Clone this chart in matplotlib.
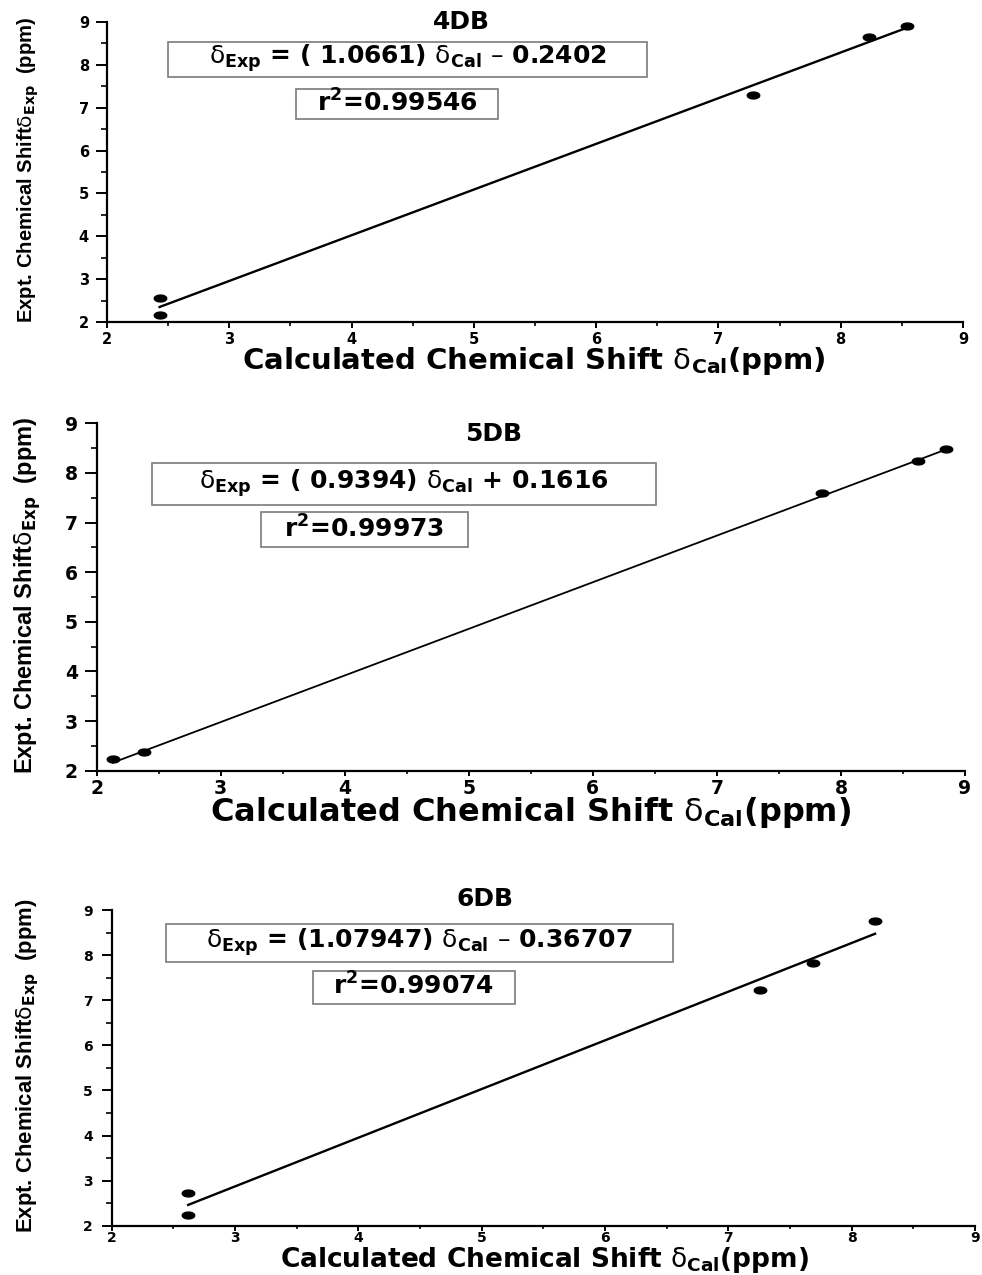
import numpy as np
import matplotlib
matplotlib.use('Agg')
import matplotlib.pyplot as plt
from matplotlib.patches import Rectangle
from matplotlib.ticker import MultipleLocator

# ---------------- data ----------------
names = ['4DB', '5DB', '6DB']

cal_4db = [2.43, 2.43, 7.28, 8.23, 8.54]
exp_4db = [2.57, 2.16, 7.29, 8.66, 8.91]
slope_4db, icpt_4db = 1.0661, -0.2402
eq_4db = r'$\mathrm{\delta}_{\mathbf{Exp}}$ = ( 1.0661) $\mathrm{\delta}_{\mathbf{Cal}}$ – 0.2402'
r2_4db = r'r$^{\mathbf{2}}$=0.99546'

cal_5db = [2.13, 2.38, 7.85, 8.62, 8.85]
exp_5db = [2.23, 2.37, 7.59, 8.24, 8.49]
slope_5db, icpt_5db = 0.9394, 0.1616
eq_5db = r'$\mathrm{\delta}_{\mathbf{Exp}}$ = ( 0.9394) $\mathrm{\delta}_{\mathbf{Cal}}$ + 0.1616'
r2_5db = r'r$^{\mathbf{2}}$=0.99973'

cal_6db = [2.62, 2.62, 7.26, 7.69, 8.19]
exp_6db = [2.72, 2.24, 7.23, 7.82, 8.76]
slope_6db, icpt_6db = 1.07947, -0.36707
eq_6db = r'$\mathrm{\delta}_{\mathbf{Exp}}$ = (1.07947) $\mathrm{\delta}_{\mathbf{Cal}}$ – 0.36707'
r2_6db = r'r$^{\mathbf{2}}$=0.99074'

ticks = [2, 3, 4, 5, 6, 7, 8, 9]
xlabel_text = r'Calculated Chemical Shift $\mathrm{\delta}_{\mathbf{Cal}}$(ppm)'
ylabel_text = r'Expt. Chemical Shift$\mathrm{\delta}_{\mathbf{Exp}}$  (ppm)'

series = [
    (cal_4db, exp_4db, slope_4db, icpt_4db, eq_4db, r2_4db),
    (cal_5db, exp_5db, slope_5db, icpt_5db, eq_5db, r2_5db),
    (cal_6db, exp_6db, slope_6db, icpt_6db, eq_6db, r2_6db),
]

# ---------------- layout (pixels) ----------------
W, H = 982, 1275
layout = [
    dict(ax=(107, 22, 963, 322), title=(461, 22), eq=(168, 42, 647, 77), r2=(296, 89, 498, 119),
         xl=(534, 361), xfs=21, yl=(28, 170), yfs=14.6,
         tfs=10.5, ylen=8, xlen=4.5, xpad=3, ypad=5, lw=1.7),
    dict(ax=(96.7, 423.3, 965, 770.7), title=(494, 434), eq=(152, 463, 656, 505), r2=(261, 512, 468, 547),
         xl=(531, 813), xfs=23, yl=(28, 595), yfs=17,
         tfs=13.5, ylen=8.5, xlen=3.5, xpad=2.5, ypad=5, lw=1.3),
    dict(ax=(111.7, 910, 975, 1225.7), title=(485.5, 899), eq=(166, 924, 673, 962), r2=(313, 971, 515, 1004),
         xl=(544, 1260), xfs=19, yl=(28, 1066), yfs=15.9,
         tfs=10, ylen=7.5, xlen=3.5, xpad=0, ypad=6, lw=1.7),
]

def fx(x):
    return x / W

def fy(y):
    return 1 - y / H

t = np.linspace(0, 2 * np.pi, 40)
ellipse = list(zip(np.cos(t), 0.55 * np.sin(t)))

fig = plt.figure(figsize=(W / 100, H / 100), dpi=100)
fig.patch.set_facecolor('white')

for name, (cal, exp, slope, icpt, eq, r2), L in zip(names, series, layout):
    x0, y0, x1, y1 = L['ax']
    ax = fig.add_axes([fx(x0), fy(y1), (x1 - x0) / W, (y1 - y0) / H])
    ax.set_xlim(2, 9)
    ax.set_ylim(2, 9)
    for s in ['top', 'right']:
        ax.spines[s].set_visible(False)
    for s in ['left', 'bottom']:
        ax.spines[s].set_linewidth(1.6)
    ax.set_xticks(ticks)
    ax.set_yticks(ticks)
    ax.xaxis.set_minor_locator(MultipleLocator(0.5))
    ax.yaxis.set_minor_locator(MultipleLocator(0.5))
    ax.tick_params(axis='y', which='major', direction='out', length=L['ylen'], width=1.4,
                   pad=L['ypad'], labelsize=L['tfs'])
    ax.tick_params(axis='y', which='minor', direction='out', length=L['ylen'] * 0.55, width=1.2)
    ax.tick_params(axis='x', which='major', direction='out', length=L['xlen'], width=1.4,
                   pad=L['xpad'], labelsize=L['tfs'])
    ax.tick_params(axis='x', which='minor', direction='out', length=L['xlen'] * 0.7, width=1.2)
    for lab in ax.get_xticklabels() + ax.get_yticklabels():
        lab.set_fontweight('bold')

    xs = np.array([min(cal), max(cal)])
    ax.plot(xs, slope * xs + icpt, color='black', lw=L['lw'], zorder=2)
    ax.plot(cal, exp, linestyle='none', marker=ellipse, markersize=9,
            color='black', zorder=3, clip_on=False)

    # title
    fig.text(fx(L['title'][0]), fy(L['title'][1]), name, ha='center', va='center',
             fontsize=18, fontweight='bold')
    # equation and r^2 boxes
    for key, txt in (('eq', eq), ('r2', r2)):
        bx0, by0, bx1, by1 = L[key]
        fig.add_artist(Rectangle((fx(bx0), fy(by1)), (bx1 - bx0) / W, (by1 - by0) / H,
                                 transform=fig.transFigure, facecolor='white',
                                 edgecolor='#7a7a7a', lw=1.2, zorder=5))
        fig.text(fx((bx0 + bx1) / 2), fy((by0 + by1) / 2 - 1), txt, ha='center', va='center',
                 fontsize=18, fontweight='bold', zorder=6)
    # axis labels
    fig.text(fx(L['xl'][0]), fy(L['xl'][1]), xlabel_text, ha='center', va='center',
             fontsize=L['xfs'], fontweight='bold')
    fig.text(fx(L['yl'][0]), fy(L['yl'][1]), ylabel_text, ha='center', va='center',
             rotation=90, fontsize=L['yfs'], fontweight='bold',
             family=['Liberation Sans Narrow', 'Liberation Sans'])

fig.savefig('out.png', dpi=100, facecolor='white')
